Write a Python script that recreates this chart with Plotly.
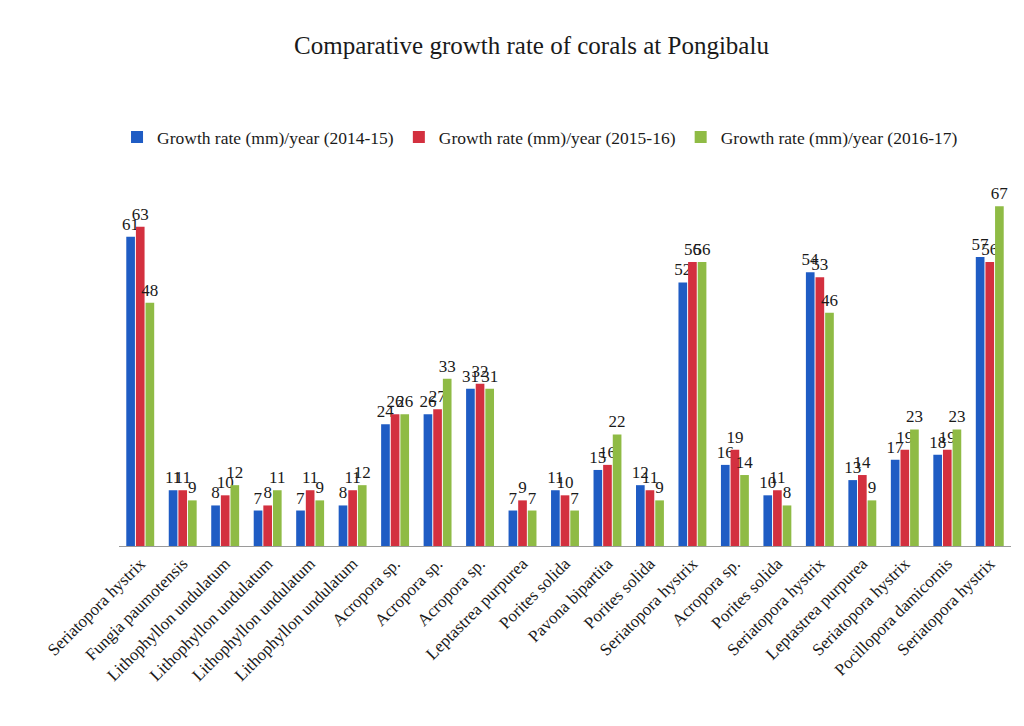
import plotly.graph_objects as go

species = [
    "Seriatopora hystrix", "Fungia paumotensis", "Lithophyllon undulatum",
    "Lithophyllon undulatum", "Lithophyllon undulatum", "Lithophyllon undulatum",
    "Acropora sp.", "Acropora sp.", "Acropora sp.", "Leptastrea purpurea",
    "Porites solida", "Pavona bipartita", "Porites solida", "Seriatopora hystrix",
    "Acropora sp.", "Porites solida", "Seriatopora hystrix", "Leptastrea purpurea",
    "Seriatopora hystrix", "Pocillopora damicornis", "Seriatopora hystrix",
]
rate_2014_15 = [61, 11, 8, 7, 7, 8, 24, 26, 31, 7, 11, 15, 12, 52, 16, 10, 54, 13, 17, 18, 57]
rate_2015_16 = [63, 11, 10, 8, 11, 11, 26, 27, 32, 9, 10, 16, 11, 56, 19, 11, 53, 14, 19, 19, 56]
rate_2016_17 = [48, 9, 12, 11, 9, 12, 26, 33, 31, 7, 7, 22, 9, 56, 14, 8, 46, 9, 23, 23, 67]

series = [
    ("Growth rate (mm)/year (2014-15)", rate_2014_15, "#1f5cc4"),
    ("Growth rate (mm)/year (2015-16)", rate_2015_16, "#d3303f"),
    ("Growth rate (mm)/year (2016-17)", rate_2016_17, "#8fbb45"),
]

# unique x positions so repeated species names get their own group
x_idx = list(range(len(species)))

SERIF = "Liberation Serif, Times New Roman, serif"

fig = go.Figure()
for name, vals, col in series:
    fig.add_trace(go.Bar(
        x=x_idx, y=vals, name=name,
        marker=dict(color=col, line=dict(width=0)),
        text=[str(v) for v in vals],
        textposition="outside",
        constraintext="none",
        cliponaxis=False,
        textfont=dict(family=SERIF, size=17, color="#1a1a1a"),
    ))

fig.update_layout(
    width=1024, height=726,
    paper_bgcolor="white", plot_bgcolor="white",
    margin=dict(l=119, r=13, t=180, b=180),
    barmode="group", bargap=0.32, bargroupgap=0.1,
    title=dict(text="Comparative growth rate of corals at Pongibalu",
               x=0.519, xanchor="center", y=0.938, yanchor="middle",
               font=dict(family=SERIF, size=25, color="#1a1a1a")),
    legend=dict(orientation="h", x=0.472, xanchor="center", y=1.117, yanchor="middle",
                font=dict(family=SERIF, size=17.5, color="#1a1a1a"),
                itemwidth=30, traceorder="normal"),
    showlegend=True,
)
fig.update_xaxes(
    tickmode="array", tickvals=x_idx, ticktext=species, tickangle=-45,
    tickfont=dict(family=SERIF, size=17, color="#1a1a1a"),
    showline=True, linecolor="#9a9a9a", linewidth=1, ticks="",
    showgrid=False, range=[-0.5, len(species) - 0.5],
)
fig.update_yaxes(range=[0, 72.2], visible=False, showgrid=False)

fig.write_html("out.html")
